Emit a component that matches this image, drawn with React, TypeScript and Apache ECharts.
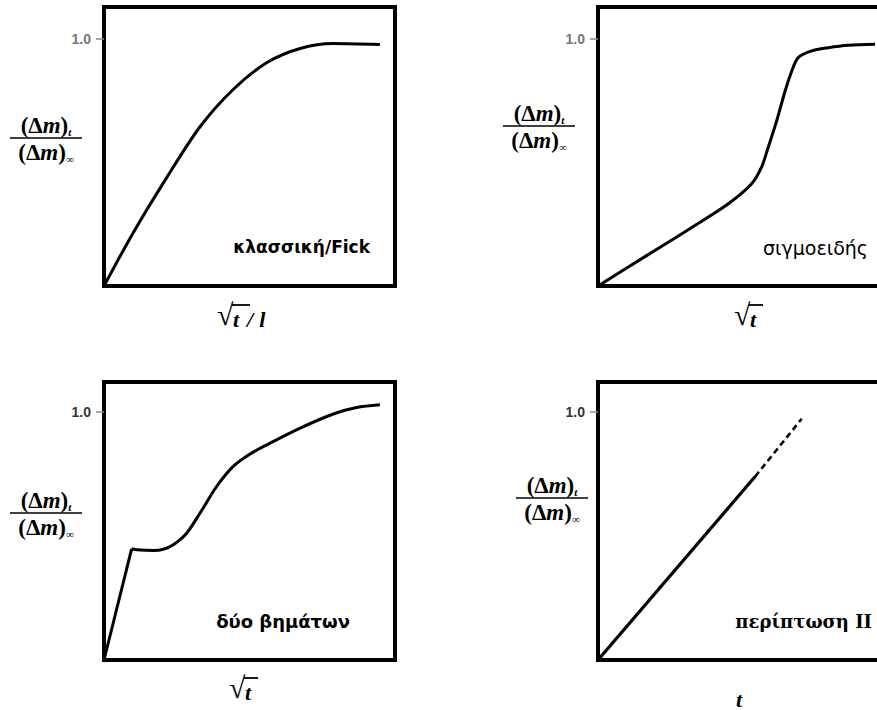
import React, { useEffect, useRef } from "react";
import * as echarts from "echarts";

// ---- data ----
const fickX = [0, 0.1, 0.216, 0.33, 0.443, 0.56, 0.674, 0.787, 0.948];
const fickY = [0, 0.215, 0.44, 0.645, 0.795, 0.905, 0.962, 0.982, 0.978];

const sigX = [0, 0.104, 0.219, 0.333, 0.448, 0.528, 0.562, 0.585, 0.614, 0.643, 0.666, 0.688, 0.734, 0.791, 0.86, 0.952];
const sigY = [0, 0.077, 0.161, 0.245, 0.333, 0.414, 0.481, 0.562, 0.669, 0.79, 0.871, 0.925, 0.952, 0.965, 0.975, 0.979];

const twoStepAX = [0, 0.095];
const twoStepAY = [0, 0.448];
const twoStepBX = [0.095, 0.112, 0.17, 0.204, 0.238, 0.284, 0.33, 0.387, 0.444, 0.502, 0.56, 0.674, 0.788, 0.868, 0.948];
const twoStepBY = [0.448, 0.444, 0.441, 0.446, 0.464, 0.511, 0.592, 0.699, 0.78, 0.83, 0.867, 0.934, 0.991, 1.017, 1.028];

const caseIISolidX = [0, 0.54];
const caseIISolidY = [0, 0.739];
const caseIIDashX = [0.54, 0.7];
const caseIIDashY = [0.739, 0.972];

const yTickValues = [1];
const yTickLabel = "1.0";
const panelTitles = ["κλασσική/Fick", "σιγμοειδής", "δύο βημάτων", "περίπτωση II"];

const zip = (xs: number[], ys: number[]) => xs.map((x, i) => [x, ys[i]]);

const SERIF = "'Liberation Serif', 'Times New Roman', serif";
const SANS = "'Liberation Sans', Arial, sans-serif";
const WIDE_SANS = "'DejaVu Sans', 'Liberation Sans', sans-serif";
const WIDE_SERIF = "'DejaVu Serif', 'Liberation Serif', serif";

function fraction(cx: number, ly: number) {
  const rich = {
    p: { fontFamily: SERIF, fontWeight: "bold", fontSize: 23, fill: "#000", lineHeight: 24 },
    m: { fontFamily: SERIF, fontWeight: "bold", fontStyle: "italic", fontSize: 23, fill: "#000", lineHeight: 24 },
    s: { fontFamily: SERIF, fontWeight: "bold", fontStyle: "italic", fontSize: 11, fill: "#000", lineHeight: 12, verticalAlign: "bottom" },
  };
  return [
    {
      type: "text",
      x: cx,
      y: ly - 1,
      style: { text: "{p|(Δ}{m|m}{p|)}{s|t}", rich, align: "center", verticalAlign: "bottom" },
    },
    {
      type: "line",
      shape: { x1: cx - 36, y1: ly, x2: cx + 36, y2: ly },
      style: { stroke: "#000", lineWidth: 1.5 },
    },
    {
      type: "text",
      x: cx,
      y: ly + 2,
      style: { text: "{p|(Δ}{m|m}{p|)}{s|∞}", rich, align: "center", verticalAlign: "top" },
    },
  ];
}

const radRich = {
  v: { fontFamily: SERIF, fontWeight: "bold", fontStyle: "italic", fontSize: 22, fill: "#000" },
  g: { fontFamily: SERIF, fontWeight: "bold", fontStyle: "italic", fontSize: 22, fill: "#000", padding: [0, 6, 0, 8] },
};

function radical(x: number, y: number, rest: string, barLen: number) {
  return [
    {
      type: "text",
      x,
      y: y - 3,
      style: { text: "√", font: `bold 30px ${SERIF}`, fill: "#000", align: "left", verticalAlign: "top" },
    },
    {
      type: "line",
      shape: { x1: x + 15, y1: y + 3, x2: x + 15 + barLen, y2: y + 3 },
      style: { stroke: "#000", lineWidth: 1.8 },
    },
    {
      type: "text",
      x: x + 16,
      y: y + 17,
      style: { text: rest, rich: radRich, align: "left", verticalAlign: "middle" },
    },
  ];
}

function title(text: string, right: number, cy: number, font: string) {
  return {
    type: "text",
    x: right,
    y: cy,
    style: { text, font, fill: "#000", align: "right", verticalAlign: "middle" },
  };
}

export default function App() {
  const ref = useRef<HTMLDivElement>(null);
  useEffect(() => {
    if (!ref.current) return;
    const chart = echarts.init(ref.current, undefined, { renderer: "svg" });
    const grids = [
      { left: 104, top: 7, width: 291, height: 279 },
      { left: 598, top: 7, width: 291, height: 279 },
      { left: 104, top: 382, width: 291, height: 278 },
      { left: 598, top: 382, width: 291, height: 278 },
    ];
    const yMax = [1.13, 1.13, 1.12, 1.12];
    const labelColor = ["#777", "#777", "#333", "#333"];
    const lineSeries = (idx: number, xs: number[], ys: number[], extra: any) => ({
      type: "line",
      xAxisIndex: idx,
      yAxisIndex: idx,
      data: zip(xs, ys),
      symbol: "none",
      lineStyle: { color: "#000", width: 3 },
      ...extra,
    });
    const option: any = {
      animation: false,
      backgroundColor: "#fff",
      grid: grids.map((g) => ({
        ...g,
        show: true,
        borderColor: "#000",
        borderWidth: 4,
        backgroundColor: "transparent",
        containLabel: false,
        outerBoundsMode: "none",
      })),
      xAxis: grids.map((_, i) => ({
        type: "value",
        gridIndex: i,
        min: 0,
        max: 1,
        axisLine: { show: false },
        axisTick: { show: false },
        axisLabel: { show: false },
        splitLine: { show: false },
      })),
      yAxis: grids.map((_, i) => ({
        type: "value",
        gridIndex: i,
        min: 0,
        max: yMax[i],
        axisLine: { show: false },
        splitLine: { show: false },
        axisTick: {
          show: true,
          customValues: yTickValues,
          length: 8,
          lineStyle: { color: "#888", width: 1.5 },
        },
        axisLabel: {
          show: true,
          customValues: yTickValues,
          formatter: () => yTickLabel,
          margin: 13,
          color: labelColor[i],
          fontWeight: "bold",
          fontSize: 14,
          fontFamily: SANS,
        },
      })),
      series: [
        lineSeries(0, fickX, fickY, { smooth: 0.3 }),
        lineSeries(1, sigX, sigY, { smooth: 0.3 }),
        lineSeries(2, twoStepAX, twoStepAY, {}),
        lineSeries(2, twoStepBX, twoStepBY, { smooth: 0.3 }),
        lineSeries(3, caseIISolidX, caseIISolidY, { lineStyle: { color: "#000", width: 3.2 } }),
        lineSeries(3, caseIIDashX, caseIIDashY, { lineStyle: { color: "#000", width: 2.6, type: [6, 4] } }),
      ],
      graphic: [
        ...fraction(46, 138),
        ...fraction(539, 126),
        ...fraction(46, 513),
        ...fraction(552, 498),
        ...radical(217, 302, "{v|t}{g|/}{v|l}", 18),
        ...radical(734, 302, "{v|t}", 14),
        ...radical(229, 675, "{v|t}", 14),
        {
          type: "text",
          x: 739,
          y: 699,
          style: { text: "t", font: `italic bold 22px ${SERIF}`, fill: "#000", align: "center", verticalAlign: "middle" },
        },
        title(panelTitles[0], 370, 247, `bold 17px ${WIDE_SANS}`),
        title(panelTitles[1], 868, 248, `19px ${WIDE_SANS}`),
        title(panelTitles[2], 350, 621, `bold 18px ${WIDE_SANS}`),
        title(panelTitles[3], 872, 621, `bold 18px ${WIDE_SERIF}`),
      ],
    };
    chart.setOption(option);
    return () => chart.dispose();
  }, []);
  return (
    <div style={{ position: "absolute", left: 0, top: 0, width: 877, height: 710, overflow: "hidden", background: "#fff" }}>
      <div ref={ref} style={{ width: 877, height: 710 }} />
    </div>
  );
}
